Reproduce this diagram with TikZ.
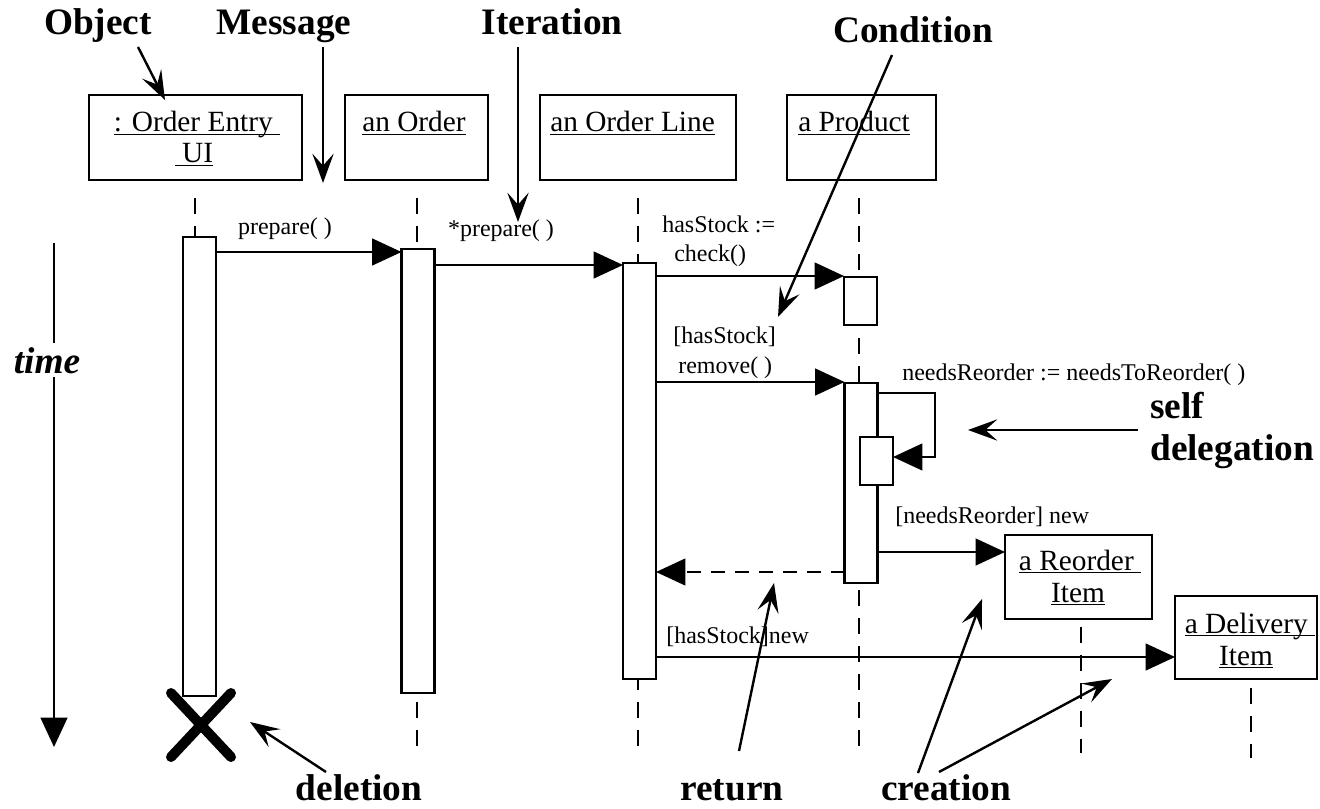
\documentclass[tikz,border=0pt]{standalone}
\usepackage{fontspec}
\setmainfont{Liberation Serif}
\usetikzlibrary{arrows.meta,calc}
\newcommand\myul[1]{\leavevmode\setbox0=\hbox{#1}\rlap{\rule[-2.4pt]{\wd0}{1.2pt}}\box0}
\begin{document}
\begin{tikzpicture}[x=0.75pt,y=-0.75pt,
  box/.style={draw, line width=1.9pt, fill=white, inner sep=0pt, outer sep=0pt, rectangle},
  act/.style={box, minimum width=24.75pt},
  life/.style={line width=1.7pt, dash pattern=on 12pt off 9pt},
  msg/.style={line width=1.7pt, -{Triangle[length=22pt,width=20pt]}},
  ret/.style={msg, dash pattern=on 10.5pt off 7.5pt},
  note/.style={line width=1.8pt, -{Stealth[length=22pt,width=16pt,inset=9pt]}},
  small/.style={font=\fontsize{18pt}{21pt}\selectfont, inner sep=0pt},
  nm/.style={font=\fontsize{22pt}{26pt}\selectfont, inner sep=0pt},
  big/.style={font=\fontsize{28pt}{33pt}\selectfont\bfseries, inner sep=0pt}]
\useasboundingbox (0,0) rectangle (1320,809);

% object boxes
\node[box, minimum width=159.75pt, minimum height=63.75pt] (oe) at (195.5,137.5) {};
\node[box, minimum width=107.25pt, minimum height=63.75pt] (or) at (416.5,137.5) {};
\node[box, minimum width=147pt, minimum height=63.75pt] (ol) at (638,137.5) {};
\node[box, minimum width=111.75pt, minimum height=63.75pt] (pr) at (861.5,137.5) {};
\node[box, minimum width=110.25pt, minimum height=63pt] (ro) at (1078.5,577) {};
\node[box, minimum width=106.5pt, minimum height=62.25pt] (de) at (1246,637.5) {};

\node[nm, anchor=base] (oet1) at (197,132) {\myul{: Order Entry\ }};
\node[nm, anchor=base] (oet2) at (194,163) {\myul{\ UI}};
\node[nm, anchor=base west] (ort) at (362,132) {\myul{an Order}};
\node[nm, anchor=base west] (olt) at (550,132) {\myul{an Order Line}};
\node[nm, anchor=base west] (prt) at (798,132) {\myul{a Product}};
\node[nm, anchor=base] (rot1) at (1080,570) {\myul{a Reorder\ }};
\node[nm, anchor=base] (rot2) at (1078,602) {\myul{Item}};
\node[nm, anchor=base] (det1) at (1250,633) {\myul{a Delivery\ }};
\node[nm, anchor=base] (det2) at (1246,665) {\myul{Item}};

% lifelines
\draw[life] (195,198) -- (195,237);
\draw[life] (417,198) -- (417,757);
\draw[life] (638,198) -- (638,757);
\draw[life] (859,198) -- (859,757);
\draw[life] (1081,627) -- (1081,753);
\draw[life] (1251,688) -- (1251,758);

% activation bars
\node[act, minimum height=344.25pt] (A1) at (199.5,466.5) {};
\node[act, minimum height=333pt] (A2) at (418,471) {};
\node[act, minimum height=312pt] (A3) at (639.5,471) {};
\node[act, minimum height=36pt] (P1) at (860.5,301) {};
\node[act, minimum height=150pt] (P2) at (861,483) {};
\node[act, minimum height=36pt] (P3) at (876.5,461) {};

% messages
\coordinate (m1) at (0,252);
\coordinate (m2) at (0,265);
\coordinate (m3) at (0,276);
\coordinate (m4) at (0,382);
\coordinate (m5) at (0,552);
\coordinate (m6) at (0,572);
\coordinate (m7) at (0,657);
\coordinate (sd1) at (935,393);
\coordinate (sd2) at (935,457);
\draw[msg] (A1.east |- m1) -- (A2.west |- m1);
\draw[msg] (A2.east |- m2) -- (A3.west |- m2);
\draw[msg] (A3.east |- m3) -- (P1.west |- m3);
\draw[msg] (A3.east |- m4) -- (P2.west |- m4);
\draw[msg] (P2.east |- sd1) -- (sd1) -- (sd2) -- (P3.east |- sd2);
\draw[msg] (P2.east |- m5) -- (ro.west |- m5);
\draw[ret] (P2.west |- m6) -- (A3.east |- m6);
\draw[msg] (A3.east |- m7) -- (de.west |- m7);

\node[small, anchor=base] (l1) at (285,235) {prepare( )};
\node[small, anchor=base] (l2) at (501,237) {*prepare( )};
\node[small, anchor=base west] (l3a) at (662,233) {hasStock :=};
\node[small, anchor=base west] (l3b) at (674,262) {check()};
\node[small, anchor=base west] (l4a) at (673,343) {[hasStock]};
\node[small, anchor=base west] (l4b) at (678,373) {remove( )};
\node[small, anchor=base west] (l5) at (902,380) {needsReorder := needsToReorder( )};
\node[small, anchor=base west] (l6) at (895,523) {[needsReorder] new};
\node[small, anchor=base west] (l7) at (666,643) {[hasStock]new};

% deletion mark
\draw[line width=7.5pt, line cap=round] (171,693) -- (231,757) (231,693) -- (171,757);

% time axis
\coordinate (t1) at (54,243);
\coordinate (t2) at (54,747);
\draw[line width=1.8pt, -{Triangle[length=22pt,width=20pt]}] (t1) -- (t2);
\node[big, font=\fontsize{28pt}{33pt}\selectfont\bfseries\itshape, anchor=base, fill=white, inner sep=3pt] (time) at (47,373) {time};

% annotation labels
\node[big, anchor=base] (lobj) at (98,35) {Object};
\node[big, anchor=base] (lmsg) at (284,35) {Message};
\node[big, anchor=base] (lit) at (552,35) {Iteration};
\node[big, anchor=base] (lcond) at (913,43) {Condition};
\node[big, anchor=base west] (lself) at (1150,418) {self};
\node[big, anchor=base west] (ldel) at (1150,460) {delegation};
\node[big, anchor=base] (ldelt) at (359,800) {deletion};
\node[big, anchor=base] (lret) at (732,800) {return};
\node[big, anchor=base] (lcre) at (946,800) {creation};

\coordinate (a1s) at (138,47);   \coordinate (a1e) at (165,100);
\coordinate (a2s) at (323,47);   \coordinate (a2e) at (323,183);
\coordinate (a3s) at (518,47);   \coordinate (a3e) at (518,222);
\coordinate (a4s) at (892,55);   \coordinate (a4e) at (778,317);
\coordinate (a5s) at (1138,430); \coordinate (a5e) at (968,430);
\coordinate (a6s) at (326,772);  \coordinate (a6e) at (250,722);
\coordinate (a7s) at (739,751);  \coordinate (a7e) at (774,583);
\coordinate (a8s) at (918,773);  \coordinate (a8e) at (982,599);
\coordinate (a9s) at (939,772);  \coordinate (a9e) at (1112,679);
\draw[note] (a1s) -- (a1e);
\draw[note] (a2s) -- (a2e);
\draw[note] (a3s) -- (a3e);
\draw[note] (a4s) -- (a4e);
\draw[note] (a5s) -- (a5e);
\draw[note] (a6s) -- (a6e);
\draw[note] (a7s) -- (a7e);
\draw[note] (a8s) -- (a8e);
\draw[note] (a9s) -- (a9e);
\end{tikzpicture}
\end{document}
